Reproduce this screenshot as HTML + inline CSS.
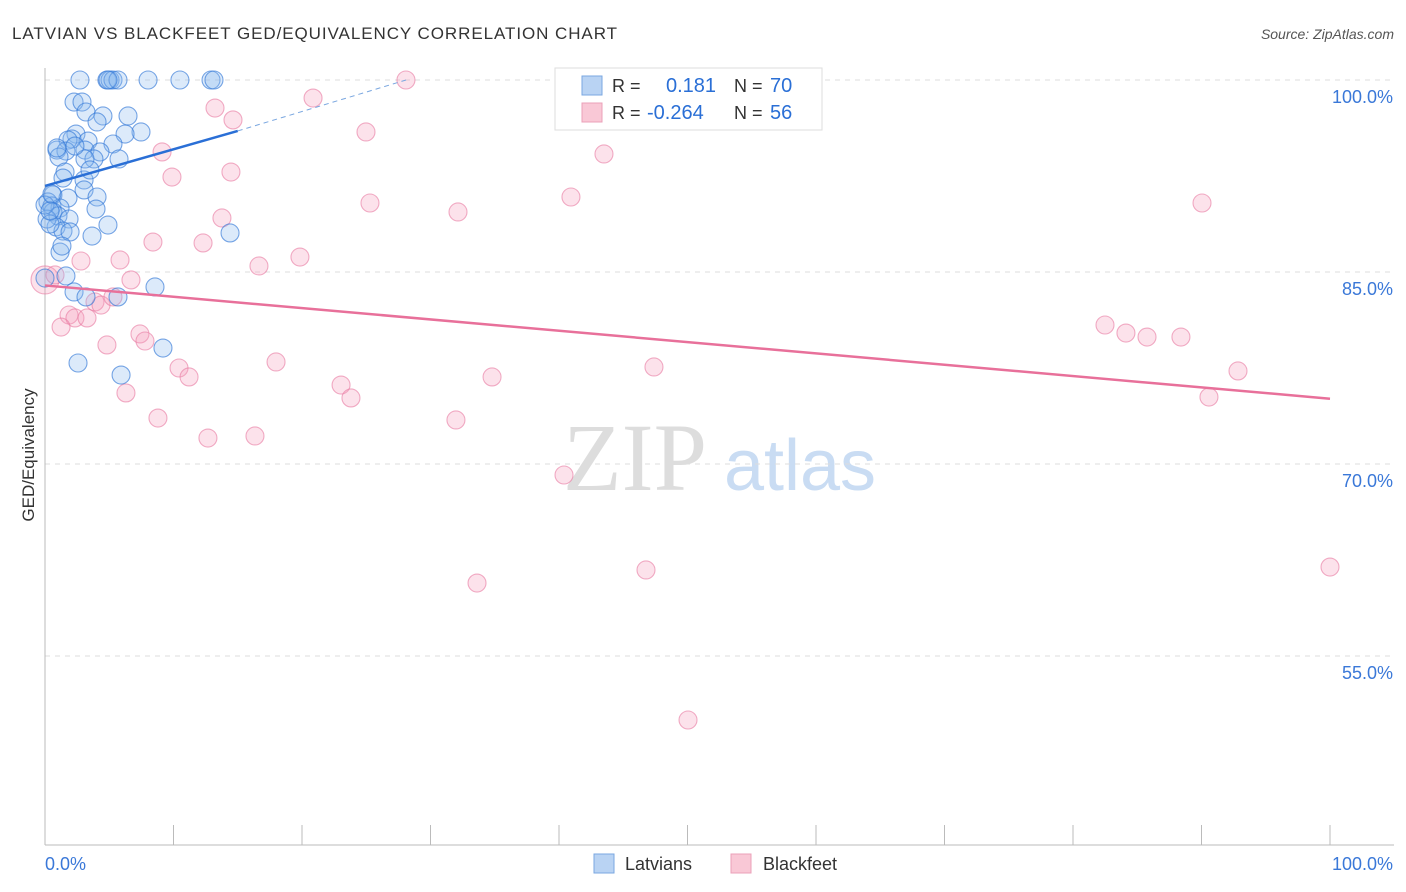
<!DOCTYPE html>
<html><head><meta charset="utf-8"><style>
body{margin:0;background:#fff;font-family:"Liberation Sans",sans-serif;}
svg{display:block}
</style></head><body>
<svg id="c" width="1406" height="892">
<text x="12" y="39" font-size="17" fill="#333" textLength="605" lengthAdjust="spacing">LATVIAN VS BLACKFEET GED/EQUIVALENCY CORRELATION CHART</text>
<text x="1394" y="39" font-size="14" fill="#555" font-style="italic" text-anchor="end">Source: ZipAtlas.com</text>
<text x="635" y="490" font-size="96" fill="#ddd" font-family="Liberation Serif,serif" text-anchor="middle">ZIP</text>
<text x="800" y="490" font-size="72" fill="#c9dcf3" text-anchor="middle">atlas</text>
<text transform="translate(34,455) rotate(-90)" font-size="17" fill="#333" text-anchor="middle">GED/Equivalency</text>
<g id="grid"></g><g id="pts"></g><g id="lines"></g>
<rect x="555" y="68" width="267" height="62" fill="#fff" stroke="#ddd"/>
<rect x="582" y="76" width="20" height="19" fill="#b9d3f3" stroke="#7aa7e0"/>
<rect x="582" y="103" width="20" height="19" fill="#f9c8d6" stroke="#eba0b8"/>
<text x="612" y="92" font-size="18" fill="#333">R = <tspan x="666" fill="#2a6fd6" font-size="20">0.181</tspan><tspan x="734" fill="#333">N = </tspan><tspan x="770" fill="#2a6fd6" font-size="20">70</tspan></text>
<text x="612" y="119" font-size="18" fill="#333">R = <tspan x="647" fill="#2a6fd6" font-size="20">-0.264</tspan><tspan x="734" fill="#333">N = </tspan><tspan x="770" fill="#2a6fd6" font-size="20">56</tspan></text>
<rect x="594" y="854" width="20" height="19" fill="#b9d3f3" stroke="#7aa7e0"/>
<text x="625" y="870" font-size="18" fill="#333">Latvians</text>
<rect x="731" y="854" width="20" height="19" fill="#f9c8d6" stroke="#eba0b8"/>
<text x="763" y="870" font-size="18" fill="#333">Blackfeet</text>
<text x="45" y="870" font-size="18" fill="#3a78d8">0.0%</text>
<text x="1393" y="870" font-size="18" fill="#3a78d8" text-anchor="end">100.0%</text>
</svg>
<script>
const yTicks=[100,85,70,55];
const yTickLabels=["100.0%","85.0%","70.0%","55.0%"];
const blueX=[2.72,4.82,5.06,5.29,5.68,8.02,10.5,12.92,13.15,2.26,2.88,3.19,4.51,6.46,4.05,7.47,6.23,2.41,2.1,1.79,3.35,5.29,0.93,1.63,3.11,4.28,1.09,3.81,5.76,1.56,1.4,3.04,3.04,0.62,4.05,1.79,0.23,0.54,1.17,3.97,0.62,1.01,1.87,4.9,0.86,1.4,1.95,3.66,14.4,1.17,0,1.63,2.26,5.68,8.56,3.19,9.18,2.57,5.92,0.16,0.39,0,0.54,1.32,3.11,2.33,0.93,3.5,0.39,4.9];
const blueY=[100,100,100,100,100,100,100,100,100,98.28,98.28,97.5,97.19,97.19,96.72,95.94,95.78,95.78,95.39,95.31,95.23,95,94.53,94.45,94.53,94.38,93.98,93.83,93.83,92.81,92.34,92.19,91.41,91.02,90.86,90.78,90.47,90.16,90,89.92,89.69,89.38,89.14,88.67,88.52,88.2,88.13,87.81,88.05,86.56,84.53,84.69,83.44,83.05,83.83,83.05,79.06,77.89,76.95,89.14,88.75,90.23,91.09,87.03,93.83,94.84,94.69,92.97,89.77,100];
const pinkX=[28.09,20.86,13.23,14.63,24.98,9.11,43.5,9.88,14.47,25.29,32.14,40.93,90.04,13.77,8.4,12.3,19.84,16.65,5.84,6.69,2.8,0,0.78,3.89,4.36,5.29,1.87,2.33,3.27,1.25,7.39,7.78,4.82,17.98,10.43,11.21,6.3,23.04,23.81,34.79,47.39,8.79,12.68,16.34,31.98,40.39,33.62,46.77,50.04,100,82.49,84.12,85.76,88.4,92.84,90.58];
const pinkY=[100,98.59,97.81,96.88,95.94,94.38,94.22,92.42,92.81,90.39,89.69,90.86,90.39,89.22,87.34,87.27,86.17,85.47,85.94,84.38,85.86,84.38,84.77,82.66,82.42,83.05,81.64,81.41,81.41,80.7,80.16,79.61,79.3,77.97,77.5,76.8,75.55,76.17,75.16,76.8,77.58,73.59,72.03,72.19,73.44,69.14,60.7,61.72,50,61.95,80.86,80.23,79.92,79.92,77.27,75.23];
const blueTrend=[[0,91.72],[15,96.02],[28.1,100]];
const pinkTrend=[[0,83.95],[100,75.1]];
const X=v=>45+v*12.85, Y=v=>80+(100-v)*12.8;
const NS="http://www.w3.org/2000/svg";
function mk(p,t,a){const e=document.createElementNS(NS,t);for(const k in a)e.setAttribute(k,a[k]);p.appendChild(e);return e;}
const g=document.getElementById('grid');
yTicks.forEach((t,i)=>{
 const l=mk(g,'line',{x1:45,x2:1394,y1:Y(t),y2:Y(t),stroke:'#ddd','stroke-dasharray':'5,5'});
 
 
 const tx=mk(g,'text',{x:1393,y:Y(t)+23,'font-size':18,fill:'#3a78d8','text-anchor':'end'});
 tx.textContent=yTickLabels[i];
 
 
});
const ax=mk(g,'line',{x1:45,x2:45,y1:68,y2:845,stroke:'#bbb'});


const bx=mk(g,'line',{x1:45,x2:1394,y1:845,y2:845,stroke:'#bbb'});


for(let i=1;i<=10;i++){const t=mk(g,'line',{x1:X(i*10),x2:X(i*10),y1:825,y2:845,stroke:'#bbb'});
 
 }
const P=document.getElementById('pts');
pinkX.forEach((v,i)=>{const c=mk(P,'circle',{cx:X(v),cy:Y(pinkY[i]),r:(i==21?14:9),fill:'rgba(244,160,188,0.3)',stroke:'rgba(232,120,160,0.6)','stroke-width':1.1});
 
 });
blueX.forEach((v,i)=>{const c=mk(P,'circle',{cx:X(v),cy:Y(blueY[i]),r:9,fill:'rgba(140,184,238,0.3)',stroke:'rgba(50,120,215,0.65)','stroke-width':1.1});
 
 });
const L=document.getElementById('lines');
const b1=mk(L,'line',{x1:X(blueTrend[0][0]),y1:Y(blueTrend[0][1]),x2:X(blueTrend[1][0]),y2:Y(blueTrend[1][1]),stroke:'#2a6fd6','stroke-width':2.5});


const b2=mk(L,'line',{x1:X(blueTrend[1][0]),y1:Y(blueTrend[1][1]),x2:X(blueTrend[2][0]),y2:Y(blueTrend[2][1]),stroke:'#7aa7e0','stroke-width':1,'stroke-dasharray':'5,4'});


const p1=mk(L,'line',{x1:X(pinkTrend[0][0]),y1:Y(pinkTrend[0][1]),x2:X(pinkTrend[1][0]),y2:Y(pinkTrend[1][1]),stroke:'#e8709a','stroke-width':2.5});


</script>
</body></html>
